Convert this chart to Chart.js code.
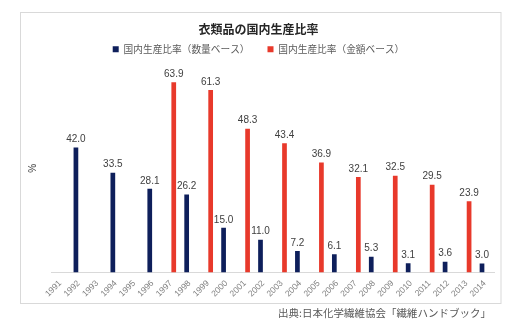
<!DOCTYPE html>
<html lang="ja">
<head>
<meta charset="UTF-8">
<title>衣類品の国内生産比率</title>
<style>
  html, body { margin: 0; padding: 0; background: #fff; }
  #wrap { position: relative; width: 516px; height: 330px; }
</style>
</head>
<body>
<div id="wrap"><canvas id="chart" width="516" height="330"></canvas></div>
<script src="https://cdn.jsdelivr.net/npm/chart.js"></script>
<script>
  const years = ['1991','1992','1993','1994','1995','1996','1997','1998','1999','2000','2001','2002',
                 '2003','2004','2005','2006','2007','2008','2009','2010','2011','2012','2013','2014'];
  // 数量ベース (偶数年)
  const qtyShare = [null, 42.0, null, 33.5, null, 28.1, null, 26.2, null, 15.0, null, 11.0,
                    null, 7.2, null, 6.1, null, 5.3, null, 3.1, null, 3.6, null, 3.0];
  // 金額ベース (奇数年)
  const valueShare = [null, null, null, null, null, null, 63.9, null, 61.3, null, 48.3, null,
                      43.4, null, 36.9, null, 32.1, null, 32.5, null, 29.5, null, 23.9, null];

  const FONT = "'Liberation Sans', 'Noto Sans CJK JP', sans-serif";
  const JP = "'Noto Sans CJK JP', 'Liberation Sans', sans-serif";

  // 棒の上の数値ラベル
  const valueLabels = {
    id: 'valueLabels',
    afterDatasetsDraw(chart) {
      const ctx = chart.ctx;
      ctx.save();
      ctx.font = '10px ' + FONT;
      ctx.fillStyle = '#404040';
      ctx.textAlign = 'center';
      ctx.textBaseline = 'bottom';
      chart.data.datasets.forEach((ds, i) => {
        chart.getDatasetMeta(i).data.forEach((bar, j) => {
          const v = ds.data[j];
          if (v == null) return;
          ctx.fillText(v.toFixed(1), bar.x, bar.y - 3);
        });
      });
      ctx.restore();
    }
  };

  // 外枠と出典
  const frame = {
    id: 'frame',
    afterDraw(chart) {
      const ctx = chart.ctx;
      ctx.save();
      ctx.strokeStyle = '#d9d9d9';
      ctx.lineWidth = 1;
      ctx.strokeRect(20.5, 12.5, 480.5, 291);
      ctx.font = '10.5px ' + JP;
      ctx.fillStyle = '#595959';
      ctx.textAlign = 'right';
      ctx.textBaseline = 'middle';
      ctx.fillText('出典:日本化学繊維協会「繊維ハンドブック」', 491, 313);
      ctx.restore();
    }
  };

  new Chart(document.getElementById('chart'), {
    type: 'bar',
    data: {
      labels: years,
      datasets: [
        {
          label: '国内生産比率（数量ベース）',
          data: qtyShare,
          backgroundColor: '#0e1f5b',
          categoryPercentage: 0.6,
          barPercentage: 0.85
        },
        {
          label: '国内生産比率（金額ベース）',
          data: valueShare,
          backgroundColor: '#e8392b',
          categoryPercentage: 0.6,
          barPercentage: 0.85
        }
      ]
    },
    options: {
      responsive: false,
      animation: false,
      layout: { padding: { left: 23, right: 22, top: 22, bottom: 25 } },
      plugins: {
        title: {
          display: true,
          text: '衣類品の国内生産比率',
          color: '#262626',
          font: { family: JP, size: 12, weight: 'bold' },
          padding: { top: 0, bottom: -10 }
        },
        legend: {
          position: 'top',
          labels: {
            color: '#595959',
            font: { family: JP, size: 9.7 },
            usePointStyle: true,
            pointStyle: 'rect',
            boxWidth: 6,
            boxHeight: 6,
            padding: 18
          }
        },
        tooltip: { enabled: false }
      },
      scales: {
        x: {
          grid: { display: false, drawTicks: false },
          border: { color: '#d9d9d9' },
          ticks: {
            color: '#7f7f7f',
            font: { family: FONT, size: 8.5 },
            maxRotation: 45,
            minRotation: 45,
            autoSkip: false,
            padding: 6
          }
        },
        y: {
          min: 0,
          max: 70,
          grid: { display: false },
          border: { display: false },
          ticks: { display: false },
          title: {
            display: true,
            text: '%',
            color: '#404040',
            font: { family: FONT, size: 10 }
          }
        }
      }
    },
    plugins: [valueLabels, frame]
  });
</script>
</body>
</html>
